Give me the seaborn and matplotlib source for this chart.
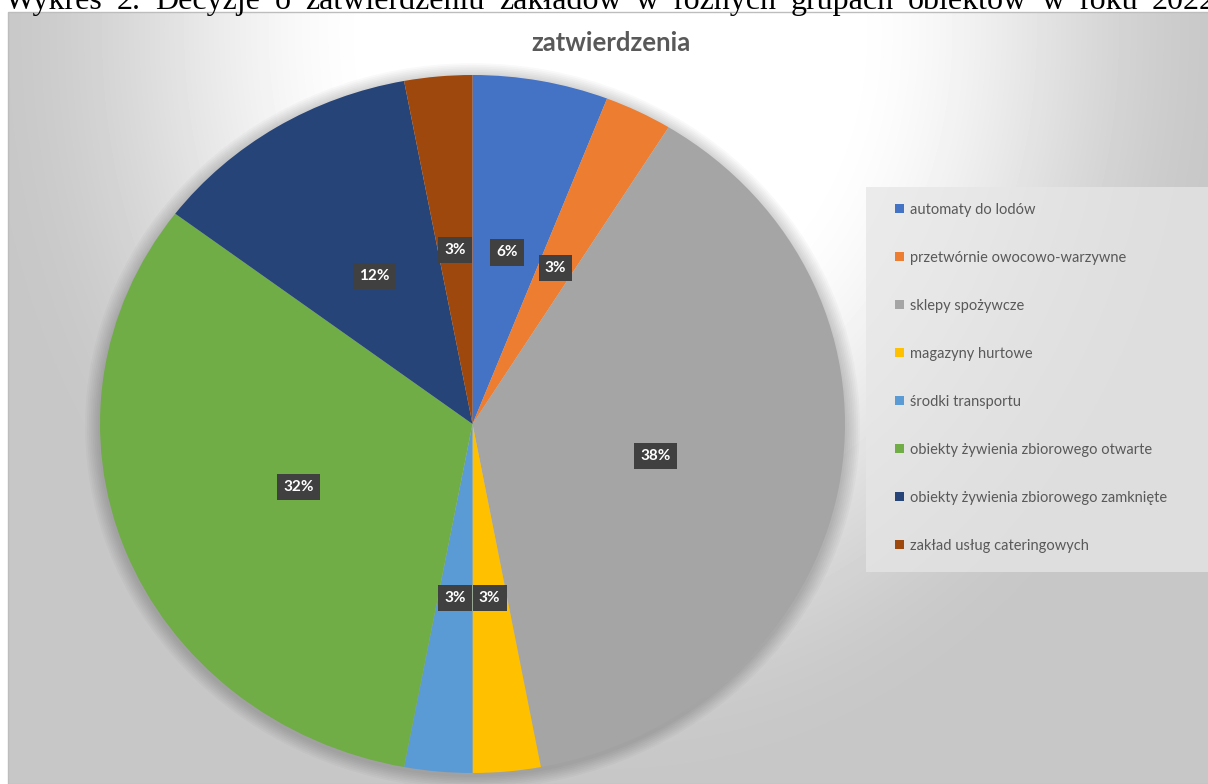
import numpy as np
import matplotlib
matplotlib.use('Agg')
import matplotlib.pyplot as plt
from matplotlib.patches import Rectangle, Ellipse
import seaborn as sns

sns.set_style('white')
plt.rcParams['font.family'] = ['Lato', 'DejaVu Sans']

# data
categories = ['automaty do lodów', 'przetwórnie owocowo-warzywne', 'sklepy spożywcze',
              'magazyny hurtowe', 'środki transportu', 'obiekty żywienia zbiorowego otwarte',
              'obiekty żywienia zbiorowego zamknięte', 'zakład usług cateringowych']
counts = [2, 1, 13, 1, 1, 11, 4, 1]
colors = ['#4472C4', '#ED7D31', '#A5A5A5', '#FFC000', '#5B9BD5', '#70AD47', '#264478', '#9E480E']
chart_title = 'zatwierdzenia'
caption = 'Wykres 2. Decyzje o zatwierdzeniu zakładów w różnych grupach obiektów w roku 2022'

palette = sns.color_palette(colors)

W, H = 1208, 784
fig = plt.figure(figsize=(W / 100, H / 100), dpi=100)
fig.patch.set_facecolor('white')

# chart area background - radial grey gradient like the Excel style
bg = fig.add_axes([8 / W, 0, 1 - 8 / W, (H - 12) / H])
yy, xx = np.mgrid[12:H, 8:W]
d = np.sqrt(((xx - 610) / 640) ** 2 + ((yy - 30) / 760) ** 2)
t = np.clip((d - 0.35) / 0.65, 0, 1)
t = t * t * (3 - 2 * t)
shade = 1 - t * (1 - 0.78)
bg.imshow(shade, cmap='gray', vmin=0, vmax=1, aspect='auto', extent=[0, 1, 0, 1],
          interpolation='bilinear')
bg.set_axis_off()
fig.add_artist(Rectangle((8 / W, 0), 1, (H - 12) / H, transform=fig.transFigure,
                         fill=False, ec='#bdbdbd', lw=1))

# legend panel
fig.add_artist(Rectangle((866 / W, (H - 572) / H), (W - 866) / W, (572 - 187) / H,
                         transform=fig.transFigure, fc='#e6e6e6', ec='none', alpha=0.75))

# pie
ax = fig.add_axes([100 / W, 11 / H, 745 / W, 698 / H])
for i in range(8):
    r = 1 + 0.005 * (8 - i)
    ax.add_patch(Ellipse((0, -0.006), 2 * r, 2 * r, fc='black', alpha=0.025, lw=0, clip_on=False))

wedges, texts, autotexts = ax.pie(counts, colors=palette, startangle=90, counterclock=False,
                                  autopct='%1.0f%%', pctdistance=0.5,
                                  wedgeprops=dict(linewidth=0),
                                  textprops=dict(color='white', fontsize=11, fontweight='bold'))
for a in autotexts:
    a.set_bbox(dict(boxstyle='square,pad=0.4', fc='#404040', ec='none'))
ax.set_aspect('auto')
ax.set_xlim(-1, 1)
ax.set_ylim(-1, 1)

fig.legend(wedges, categories, loc='upper left', bbox_to_anchor=(895 / W, (H - 203) / H),
           frameon=False, fontsize=10.5, labelcolor='#595959', handlelength=0.6, handleheight=0.6,
           handletextpad=0.45, labelspacing=2.33, borderpad=0, borderaxespad=0)

fig.text(611 / W, (H - 43) / H, chart_title, ha='center', va='center', fontsize=18.5,
         fontweight='bold', color='#595959')

# caption above the chart (only its lower part is visible), spread across the width
words = caption.split(' ')
rend = fig.canvas.get_renderer()
x0, x1 = 5, 1216
fs = 19
for _ in range(20):
    objs = [fig.text(0, (H - 9) / H, w, family=['Liberation Serif'], fontsize=fs,
                     va='baseline', color='black') for w in words]
    widths = [o.get_window_extent(rend).width for o in objs]
    gap = (x1 - x0 - sum(widths)) / (len(words) - 1)
    if gap <= 0.45 * fs * 100 / 72:
        break
    for o in objs:
        o.remove()
    fs += 0.5
x = x0
for o, w in zip(objs, widths):
    o.set_x(x / W)
    x += w + gap

fig.savefig('out.png', dpi=100)
